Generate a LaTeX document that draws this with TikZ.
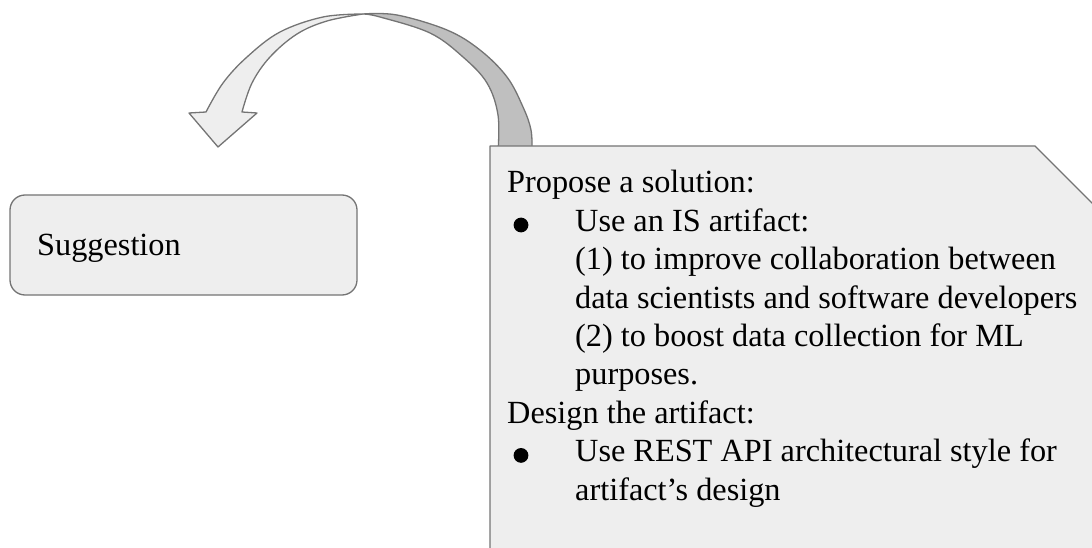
\documentclass[tikz,border=0pt]{standalone}
\usepackage{fontspec}
\setmainfont{Liberation Serif}
\definecolor{linegray}{HTML}{747474}
\definecolor{boxfill}{HTML}{EEEEEE}
\definecolor{bandgray}{HTML}{BFBFBF}
\newcommand{\bodysize}{\fontsize{32.3pt}{38.4pt}\selectfont}
\begin{document}
\begin{tikzpicture}[x=1pt,y=-1pt,
  outline/.style={draw=linegray, line width=1.3pt, line join=round},
  plainbox/.style={outline, fill=boxfill},
  label/.style={anchor=base west, inner sep=0pt, font=\bodysize}]
\useasboundingbox (0,0) rectangle (1092,548);
\clip (0,0) rectangle (1092,548);

% back face of the curved arrow (tail side)
\filldraw[outline, fill=bandgray]
  plot[smooth, tension=0.6] coordinates {(363,14) (397,15) (447,30) (480,50) (507,77) (523,107) (531,130) (532,152)}
  -- plot[smooth, tension=0.6] coordinates {(498,152) (498,115) (487,83) (463,57) (430,33) (380,17) (363,14)}
  -- cycle;

% front face of the curved arrow with its head
\filldraw[outline, fill=boxfill]
  plot[smooth, tension=0.6] coordinates {(206,112) (223,83) (247,57) (280,32) (323,17) (363,14)}
  -- plot[smooth, tension=0.6] coordinates {(363,14) (327,21) (297,34) (270,57) (252,83) (242,112)}
  -- (257,113) -- (218,147) -- (189,113) -- cycle;

% snipped-corner box holding the description
\filldraw[plainbox] (490,620) -- (490,146) -- (1035,146) -- (1250,361) -- (1250,620) -- cycle;

% bullets of the two lists
\fill (521,225) circle (7.4pt);
\fill (521,455.4) circle (7.4pt);

\node[label] (solution) at (507,193) {\parbox[t]{580pt}{\bodysize
Propose a solution:\\
\hspace*{68pt}Use an IS artifact:\\
\hspace*{68pt}(1) to improve collaboration between\\
\hspace*{68pt}data scientists and software developers\\
\hspace*{68pt}(2) to boost data collection for ML\\
\hspace*{68pt}purposes.\\
Design the artifact:\\
\hspace*{68pt}Use REST API architectural style for\\
\hspace*{68pt}artifact’s design}};

% rounded box on the left
\node[plainbox, rounded corners=15pt, minimum width=347pt, minimum height=100pt, inner sep=0pt]
  (suggbox) at (183.5,245) {};
\node[label] (suggtext) at (37,255) {Suggestion};
\end{tikzpicture}
\end{document}
